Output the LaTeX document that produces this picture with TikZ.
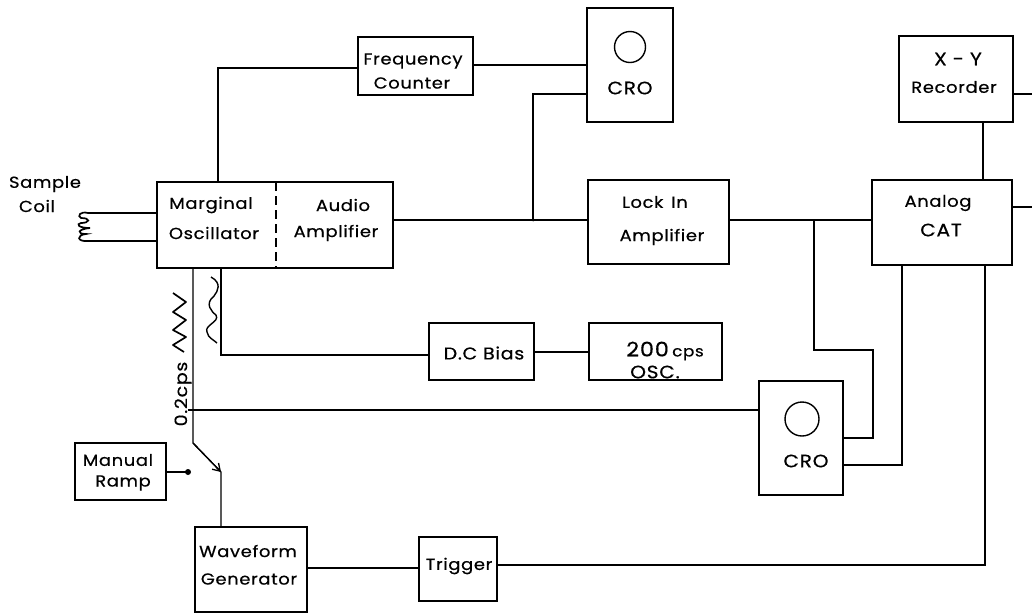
\documentclass[tikz,border=0pt]{standalone}
\usepackage{fontspec}
\setmainfont{Poppins}[FakeStretch=1.12,LetterSpace=4,FakeBold=0.5]
\usetikzlibrary{arrows.meta}
\tikzset{
  x=1pt,y=-1pt,
  blockbox/.style={draw,line width=1.6pt,rectangle,inner sep=0pt},
  wire/.style={draw,line width=1.3pt,line join=miter},
  lbl/.style={inner sep=0pt,font=\fontsize{16}{16}\selectfont,text=black},
  lblb/.style={lbl,font=\fontsize{18}{18}\selectfont},
}
\newcommand{\blk}[5]{\node[blockbox,minimum width={#4-#2},minimum height={#5-#3}] (#1) at ({(#2+#4)/2},{(#3+#5)/2}) {};}
\begin{document}
\begin{tikzpicture}
\useasboundingbox (0,0) rectangle (1032,614);
% blocks
\blk{osc}{157}{182}{393}{268}
\blk{freq}{358}{37}{473}{95}
\blk{croa}{587}{8}{673}{122}
\blk{lock}{588}{180}{729}{264}
\blk{xy}{899}{36}{1013}{122}
\blk{cat}{872}{180}{1012}{265}
\blk{dc}{429}{323}{534}{380}
\blk{osca}{589}{323}{722}{380}
\blk{crob}{759}{381}{843}{495}
\blk{man}{75}{443}{166}{500}
\blk{wave}{195}{527}{307}{612}
\blk{trig}{419}{537}{497}{601}
% screens
\node[draw,circle,line width=1.4pt,minimum size=31pt,inner sep=0pt] (scra) at (630,47) {};
\node[draw,circle,line width=1.4pt,minimum size=34pt,inner sep=0pt] (scrb) at (802,419) {};
% dashed divider
\coordinate (divt) at (276,182);
\coordinate (divb) at (276,268);
\draw[line width=1.6pt,dash pattern=on 9pt off 5pt] (divt) -- (divb);
% free points
\coordinate (j1) at (533,220);
\coordinate (j2) at (814,220);
\coordinate (sw) at (193,443);
\coordinate (swt) at (221,472);
\coordinate (end1) at (1032,94);
\coordinate (end2) at (1032,207);
\coordinate (c1) at (88,213);
\coordinate (c2) at (88,241);
\coordinate (osct) at (218,182);
\coordinate (oscb1) at (193,268);
\coordinate (oscb2) at (221,268);
\coordinate (dot) at (188,472);
\coordinate (stub) at (188,410);
\coordinate (cat1) at (902,265);
\coordinate (cat2) at (985,265);
\coordinate (xyb) at (983,122);
\coordinate (catt) at (983,180);
% wires
\draw[wire] (osct) |- (freq.west |- 0,68);
\draw[wire] (freq.east |- 0,65) -- (croa.west |- 0,65);
\draw[wire] (croa.west |- 0,94) -| (j1);
\draw[wire] (osc.east |- j1) -- (lock.west |- j1);
\draw[wire] (lock.east |- j1) -- (cat.west |- j1);
\draw[wire] (j2) -- (814,350) -- (873,350) -- (873,438) -- (crob.east |- 0,438);
\draw[wire] (cat1) |- (crob.east |- 0,465);
\draw[wire] (cat2) |- (trig.east |- 0,565);
\draw[wire] (wave.east |- 0,568) -- (trig.west |- 0,568);
\draw[wire] (xyb) -- (catt);
\draw[wire] (xy.east |- end1) -- (end1);
\draw[wire] (cat.east |- end2) -- (end2);
\draw[wire] (osc.west |- c1) -- (c1);
\draw[wire] (osc.west |- c2) -- (c2);
\draw[wire] (oscb2) |- (dc.west |- 0,355);
\draw[wire] (dc.east |- 0,352) -- (osca.west |- 0,352);
\draw[wire] (oscb1) -- (sw) -- (swt) -- (wave.north -| swt);
\draw[wire] (stub) -- (crob.west |- stub);
\draw[line width=1.3pt,-{Straight Barb[length=7pt,width=9pt]}] (sw) -- (swt);
\draw[wire] (man.east |- dot) -- (dot);
\fill (dot) circle (3pt);
\fill (j1) circle (1.5pt);
\fill (j2) circle (1pt);
% coil
\draw[line width=1.7pt] (88,213) .. controls (80,211) and (77,216) .. (81,218)
  .. controls (91,218) and (90,223) .. (81,223)
  .. controls (76,224) and (78,228) .. (90,228)
  .. controls (78,229) and (76,234) .. (86,234)
  .. controls (76,235) and (77,242) .. (88,241);
% triangle wave
\draw[line width=1.7pt,line join=round] (173,293) -- (186,302) -- (173,312) -- (186,320) -- (173,330) -- (186,337) -- (173,345) -- (184,352);
% sine wave
\draw[line width=1.4pt] (211,277) .. controls (222,283) and (218,291) .. (214,296)
  .. controls (204,304) and (212,312) .. (216,315)
  .. controls (220,322) and (204,325) .. (207,332)
  .. controls (208,338) and (214,340) .. (217,343);
% labels
\node[lbl] (t1) at (45,184) {Sample};
\node[lbl] (t2) at (37,206) {Coil};
\node[lbl] (t3) at (211,205) {Marginal};
\node[lbl] (t4) at (214,233) {Oscillator};
\node[lbl] (t5) at (343,205) {Audio};
\node[lbl] (t6) at (336,233) {Amplifier};
\node[lbl] (t7) at (413,61) {Frequency};
\node[lbl] (t8) at (412,83) {Counter};
\node[lblb] (t9) at (630,88) {CRO};
\node[lbl] (t10) at (655,202) {Lock\hspace{8pt}In};
\node[lbl] (t11) at (662,237) {Amplifier};
\node[lblb] (t12) at (958,59) {X - Y};
\node[lbl] (t13) at (954,87) {Recorder};
\node[lbl] (t14) at (938,203) {Analog};
\node[lblb] (t15) at (941,230) {CAT};
\node[lbl,font=\fontsize{17}{17}\selectfont] (t16) at (484,353) {D.C Bias};
\node[lblb,font=\fontsize{20}{20}\selectfont] (t17) at (665,351) {200\,{\fontsize{15}{15}\selectfont cps}};
\node[lblb] (t18) at (655,372) {OSC.};
\node[lblb] (t19) at (806,461) {CRO};
\node[lbl] (t20) at (118,460) {Manual};
\node[lbl] (t21) at (123,483) {Ramp};
\node[lbl] (t22) at (248,551) {Waveform};
\node[lbl] (t23) at (249,579) {Generator};
\node[lbl] (t24) at (459,566) {Trigger};
\node[lbl,font=\fontsize{17}{17}\selectfont,rotate=90] (t25) at (183,394) {0.2cps};
\end{tikzpicture}
\end{document}
